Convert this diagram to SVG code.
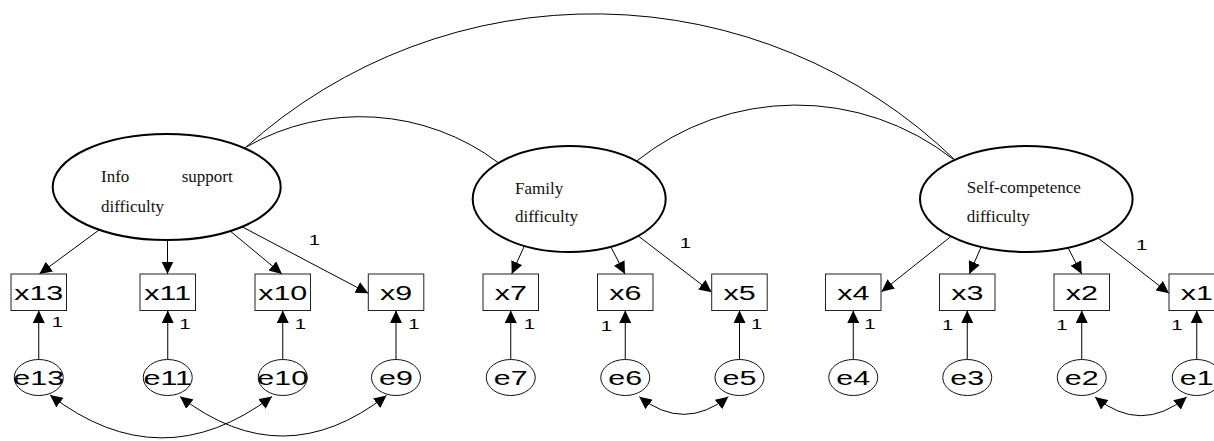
<svg xmlns="http://www.w3.org/2000/svg" width="1214" height="441" viewBox="0 0 1214 441">
  <style>
    .latent { fill: #fff; stroke: #000; stroke-width: 2; }
    .obs { fill: #fff; stroke: #222; stroke-width: 1; }
    .err { fill: #fff; stroke: #111; stroke-width: 1; }
    .lbl { font-family: "Liberation Serif", "Times New Roman", serif; font-size: 17px; fill: #111; }
    .var { font-family: "Liberation Sans", Arial, sans-serif; font-size: 21px; fill: #000; text-anchor: middle; }
    .one { font-family: "Liberation Sans", Arial, sans-serif; font-size: 14px; fill: #000; text-anchor: middle; }
    .path { fill: none; stroke: #000; stroke-width: 1; }
    .arrow { marker-end: url(#head); }
    .cov2 { marker-start: url(#head2); marker-end: url(#head2); }
  </style>
  <defs>
    <marker id="head" markerUnits="userSpaceOnUse" markerWidth="13" markerHeight="12" refX="12.5" refY="6" orient="auto">
      <path d="M0,0 L12.5,6 L0,12 Z" fill="#000"/>
    </marker>
    <marker id="head2" markerUnits="userSpaceOnUse" markerWidth="13" markerHeight="12" refX="12.5" refY="6" orient="auto-start-reverse">
      <path d="M0,0 L12.5,6 L0,12 Z" fill="#000"/>
    </marker>
  </defs>

  <rect width="1214" height="441" fill="#fff"/>

  <!-- connectors -->
  <g id="connectors" class="path">
    <!-- factor correlations -->
    <path d="M245,148 A520,520 0 0,1 955,160"/>
    <path d="M246.7,146.7 A230,230 0 0,1 498.3,162.7"/>
    <path d="M636.7,161 A255,255 0 0,1 953.3,159.3"/>

    <!-- loadings: Info support difficulty -->
    <path class="arrow" d="M99,230 L39.3,274"/>
    <path class="arrow" d="M167.5,237 L167.5,274"/>
    <path class="arrow" d="M229.4,230.4 L282,274"/>
    <path class="arrow" d="M242.3,226.9 L368.3,293.3"/>

    <!-- loadings: Family difficulty -->
    <path class="arrow" d="M525.2,244 L511.7,274"/>
    <path class="arrow" d="M609.3,244 L625,274"/>
    <path class="arrow" d="M636.9,234.9 L711.7,292.3"/>

    <!-- loadings: Self-competence difficulty -->
    <path class="arrow" d="M952.3,235.4 L881.5,291.7"/>
    <path class="arrow" d="M982.2,244.6 L969.3,274"/>
    <path class="arrow" d="M1066.9,245.6 L1081.7,274"/>
    <path class="arrow" d="M1096,236.4 L1169,293.3"/>

    <!-- error terms -->
    <path class="arrow" d="M38.75,359.5 L38.75,310.5"/>
    <path class="arrow" d="M167.75,359.5 L167.75,310.5"/>
    <path class="arrow" d="M282.75,359.5 L282.75,310.5"/>
    <path class="arrow" d="M396,359.5 L396,310.5"/>
    <path class="arrow" d="M510.75,359.5 L510.75,310.5"/>
    <path class="arrow" d="M625.25,359.5 L625.25,310.5"/>
    <path class="arrow" d="M739.5,359.5 L739.5,310.5"/>
    <path class="arrow" d="M853.25,359.5 L853.25,310.5"/>
    <path class="arrow" d="M967.25,359.5 L967.25,310.5"/>
    <path class="arrow" d="M1081.75,359.5 L1081.75,310.5"/>
    <path class="arrow" d="M1196.75,359.5 L1196.75,310.5"/>

    <!-- error covariances -->
    <path class="cov2" d="M50,395 Q161,480 272,396.5"/>
    <path class="cov2" d="M180,396.5 Q283,476 386.5,395.5"/>
    <path class="cov2" d="M639.3,396.7 Q683.8,432 728.3,396.7"/>
    <path class="cov2" d="M1095,397 Q1141,434.4 1186.7,397"/>
  </g>

  <!-- path coefficients fixed to 1 -->
  <g id="fixed-weights">
    <text class="one" transform="translate(314.5,245) scale(1.45,1)">1</text>
    <text class="one" transform="translate(685.5,248) scale(1.45,1)">1</text>
    <text class="one" transform="translate(1141.7,250) scale(1.45,1)">1</text>

    <text class="one" transform="translate(57.5,327) scale(1.45,1)">1</text>
    <text class="one" transform="translate(185,328.5) scale(1.45,1)">1</text>
    <text class="one" transform="translate(300.5,328.5) scale(1.45,1)">1</text>
    <text class="one" transform="translate(414,328.5) scale(1.45,1)">1</text>
    <text class="one" transform="translate(529.3,329) scale(1.45,1)">1</text>
    <text class="one" transform="translate(606.5,330.5) scale(1.45,1)">1</text>
    <text class="one" transform="translate(756.7,329) scale(1.45,1)">1</text>
    <text class="one" transform="translate(870,329) scale(1.45,1)">1</text>
    <text class="one" transform="translate(947.7,329.5) scale(1.45,1)">1</text>
    <text class="one" transform="translate(1062,329.5) scale(1.45,1)">1</text>
    <text class="one" transform="translate(1177,329.5) scale(1.45,1)">1</text>
  </g>

  <!-- latent factors -->
  <g id="info-support">
    <ellipse class="latent" cx="166.7" cy="187" rx="114" ry="53"/>
    <text class="lbl" x="101" y="181.7">Info</text>
    <text class="lbl" x="181.7" y="181.7">support</text>
    <text class="lbl" x="101" y="211.7">difficulty</text>
  </g>
  <g id="family">
    <ellipse class="latent" cx="569.2" cy="199" rx="96.5" ry="53"/>
    <text class="lbl" x="515" y="194">Family</text>
    <text class="lbl" x="515" y="221.7">difficulty</text>
  </g>
  <g id="self-competence">
    <ellipse class="latent" cx="1026.3" cy="199" rx="106.3" ry="53"/>
    <text class="lbl" x="966.7" y="193.3">Self-competence</text>
    <text class="lbl" x="966.7" y="221.7">difficulty</text>
  </g>

  <!-- observed variables -->
  <g id="x13"><rect class="obs" x="11" y="274" width="55.5" height="36.5"/><text class="var" transform="translate(38.75,299.5) scale(1.45,1)">x13</text></g>
  <g id="x11"><rect class="obs" x="140" y="274" width="55.5" height="36.5"/><text class="var" transform="translate(167.75,299.5) scale(1.45,1)">x11</text></g>
  <g id="x10"><rect class="obs" x="255" y="274" width="55.5" height="36.5"/><text class="var" transform="translate(282.75,299.5) scale(1.45,1)">x10</text></g>
  <g id="x9"><rect class="obs" x="368.3" y="274" width="55.5" height="36.5"/><text class="var" transform="translate(396,299.5) scale(1.45,1)">x9</text></g>
  <g id="x7"><rect class="obs" x="483" y="274" width="55.5" height="36.5"/><text class="var" transform="translate(510.75,299.5) scale(1.45,1)">x7</text></g>
  <g id="x6"><rect class="obs" x="597.5" y="274" width="55.5" height="36.5"/><text class="var" transform="translate(625.25,299.5) scale(1.45,1)">x6</text></g>
  <g id="x5"><rect class="obs" x="711.7" y="274" width="55.5" height="36.5"/><text class="var" transform="translate(739.5,299.5) scale(1.45,1)">x5</text></g>
  <g id="x4"><rect class="obs" x="825.5" y="274" width="55.5" height="36.5"/><text class="var" transform="translate(853.25,299.5) scale(1.45,1)">x4</text></g>
  <g id="x3"><rect class="obs" x="939.5" y="274" width="55.5" height="36.5"/><text class="var" transform="translate(967.25,299.5) scale(1.45,1)">x3</text></g>
  <g id="x2"><rect class="obs" x="1054" y="274" width="55.5" height="36.5"/><text class="var" transform="translate(1081.75,299.5) scale(1.45,1)">x2</text></g>
  <g id="x1"><rect class="obs" x="1169" y="274" width="55.5" height="36.5"/><text class="var" transform="translate(1196.75,299.5) scale(1.45,1)">x1</text></g>

  <!-- error terms -->
  <g id="e13"><ellipse class="err" cx="38.75" cy="377.5" rx="24.5" ry="18"/><text class="var" transform="translate(38.75,384.5) scale(1.45,1)">e13</text></g>
  <g id="e11"><ellipse class="err" cx="167.75" cy="377.5" rx="24.5" ry="18"/><text class="var" transform="translate(167.75,384.5) scale(1.45,1)">e11</text></g>
  <g id="e10"><ellipse class="err" cx="282.75" cy="377.5" rx="24.5" ry="18"/><text class="var" transform="translate(282.75,384.5) scale(1.45,1)">e10</text></g>
  <g id="e9"><ellipse class="err" cx="396" cy="377.5" rx="24.5" ry="18"/><text class="var" transform="translate(396,384.5) scale(1.45,1)">e9</text></g>
  <g id="e7"><ellipse class="err" cx="510.75" cy="377.5" rx="24.5" ry="18"/><text class="var" transform="translate(510.75,384.5) scale(1.45,1)">e7</text></g>
  <g id="e6"><ellipse class="err" cx="625.25" cy="377.5" rx="24.5" ry="18"/><text class="var" transform="translate(625.25,384.5) scale(1.45,1)">e6</text></g>
  <g id="e5"><ellipse class="err" cx="739.5" cy="377.5" rx="24.5" ry="18"/><text class="var" transform="translate(739.5,384.5) scale(1.45,1)">e5</text></g>
  <g id="e4"><ellipse class="err" cx="853.25" cy="377.5" rx="24.5" ry="18"/><text class="var" transform="translate(853.25,384.5) scale(1.45,1)">e4</text></g>
  <g id="e3"><ellipse class="err" cx="967.25" cy="377.5" rx="24.5" ry="18"/><text class="var" transform="translate(967.25,384.5) scale(1.45,1)">e3</text></g>
  <g id="e2"><ellipse class="err" cx="1081.75" cy="377.5" rx="24.5" ry="18"/><text class="var" transform="translate(1081.75,384.5) scale(1.45,1)">e2</text></g>
  <g id="e1"><ellipse class="err" cx="1196.75" cy="377.5" rx="24.5" ry="18"/><text class="var" transform="translate(1196.75,384.5) scale(1.45,1)">e1</text></g>
</svg>
